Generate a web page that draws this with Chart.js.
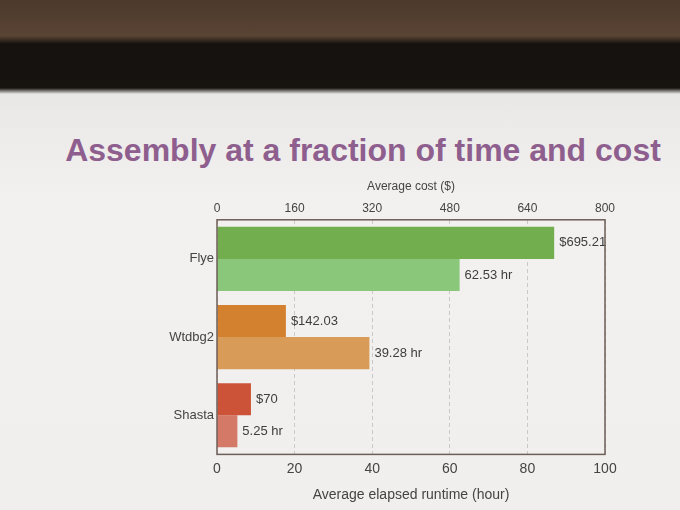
<!DOCTYPE html>
<html>
<head>
<meta charset="utf-8">
<script src="https://cdn.jsdelivr.net/npm/chart.js@4/dist/chart.umd.min.js"></script>
<style>
  html, body { margin: 0; padding: 0; }
  body {
    width: 680px; height: 510px; overflow: hidden;
    background: linear-gradient(to bottom, #4b392c 0px, #5a4434 36px, #14110f 44px, #17130f 88px, #e9e8e6 94px, #f2f1ef 200px, #f0efed 510px);
  }
  #wrap { position: relative; width: 680px; height: 510px; }
  canvas { display: block; position: absolute; left: 0; top: 0; }
  h1 {
    position: absolute; left: 46px; top: 132px; width: 634px; margin: 0;
    text-align: center; font: bold 32px/36px "Liberation Sans", Arial, sans-serif;
    color: #8e5f8e; white-space: nowrap;
  }
</style>
</head>
<body>
<div id="wrap">
  <h1>Assembly at a fraction of time and cost</h1>
  <canvas id="assembly" width="680" height="510"></canvas>
</div>
<script>
const assemblers = ['Flye', 'Wtdbg2', 'Shasta'];
const avgCost = [695.21, 142.03, 70];
const avgRuntime = [62.53, 39.28, 5.25];
const costColors = ['#72ad4e', '#d4812f', '#cc5238'];
const runtimeColors = ['#8ac77a', '#d99b58', '#d47868'];

// value labels at the end of each bar
const barLabels = {
  id: 'barLabels',
  afterDatasetsDraw(chart) {
    const ctx = chart.ctx;
    ctx.save();
    ctx.font = '13px "Liberation Sans", Arial, sans-serif';
    ctx.fillStyle = '#3d3d3d';
    ctx.textBaseline = 'middle';
    chart.data.datasets.forEach((ds, i) => {
      chart.getDatasetMeta(i).data.forEach((bar, j) => {
        const v = ds.data[j];
        const txt = i === 0 ? '$' + v : v + ' hr';
        ctx.fillText(txt, bar.x + 5, bar.y);
      });
    });
    ctx.restore();
  }
};

// box round the plot area
const frame = {
  id: 'frame',
  afterDraw(chart) {
    const a = chart.chartArea;
    const ctx = chart.ctx;
    ctx.save();
    ctx.strokeStyle = '#6e5e58';
    ctx.lineWidth = 1.5;
    ctx.strokeRect(a.left, a.top, a.right - a.left, a.bottom - a.top);
    ctx.restore();
  }
};

Chart.defaults.font.family = '"Liberation Sans", Arial, sans-serif';
Chart.defaults.color = '#444';

new Chart(document.getElementById('assembly'), {
  type: 'bar',
  data: {
    labels: assemblers,
    datasets: [
      {
        label: 'Average cost ($)',
        data: avgCost,
        xAxisID: 'xCost',
        backgroundColor: costColors
      },
      {
        label: 'Average elapsed runtime (hour)',
        data: avgRuntime,
        xAxisID: 'xTime',
        backgroundColor: runtimeColors
      }
    ]
  },
  options: {
    indexAxis: 'y',
    responsive: false,
    animation: false,
    devicePixelRatio: 1,
    categoryPercentage: 0.82,
    barPercentage: 1,
    layout: { padding: { top: 179, right: 75, bottom: 2, left: 0 } },
    plugins: {
      legend: { display: false },
      tooltip: { enabled: false }
    },
    scales: {
      xCost: {
        position: 'top',
        min: 0, max: 800,
        ticks: { stepSize: 160, font: { size: 12 }, color: '#444', padding: 4 },
        grid: { color: '#c9c9c9', drawTicks: false },
        border: { display: false, dash: [4, 3] },
        title: { display: true, text: 'Average cost ($)', font: { size: 12 }, color: '#444', padding: { bottom: 4, top: 0 } }
      },
      xTime: {
        position: 'bottom',
        min: 0, max: 100,
        ticks: { stepSize: 20, font: { size: 14 }, color: '#444', padding: 6 },
        grid: { display: false, drawTicks: false },
        border: { display: false },
        title: { display: true, text: 'Average elapsed runtime (hour)', font: { size: 14 }, color: '#444', padding: { top: 4 } }
      },
      y: {
        ticks: { font: { size: 13 }, color: '#444', padding: 3 },
        grid: { display: false, drawTicks: false },
        border: { display: false },
        afterFit(scale) { scale.width = 217; }
      }
    }
  },
  plugins: [barLabels, frame]
});
</script>
</body>
</html>
